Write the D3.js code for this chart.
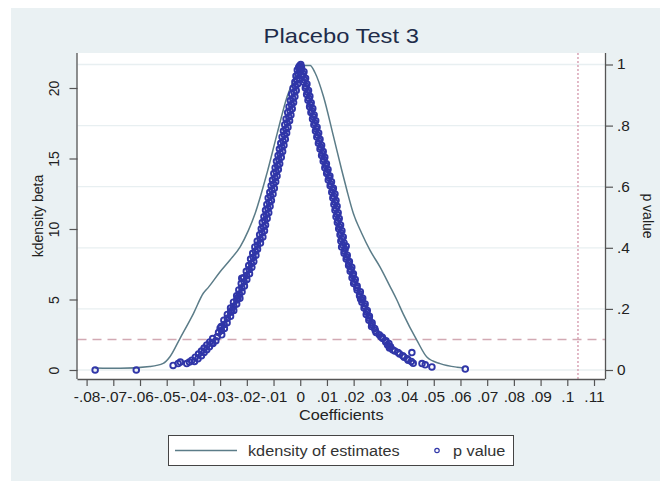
<!DOCTYPE html>
<html>
<head>
<meta charset="utf-8">
<script src="https://cdn.jsdelivr.net/npm/d3@7"></script>
<style>
  body { margin: 0; background: #fff; }
  text { font-family: "Liberation Sans", Arial, sans-serif; }
</style>
</head>
<body>
<div id="chart"></div>
<script>
// kdensity of the placebo estimates (coefficient, density)
var densCoef = [-0.0768, -0.0674, -0.0563, -0.0513, -0.0488, -0.0450, -0.0400, -0.0363, -0.0344, -0.0300,
                -0.0263, -0.0225, -0.0194, -0.0169, -0.0124, -0.0086, -0.0049, -0.0026,  0.0000,  0.0037,
                 0.0055,  0.0087,  0.0124,  0.0155,  0.0174,  0.0199,  0.0230,  0.0261,  0.0299,  0.0337,
                 0.0361,  0.0385,  0.0437,  0.0475,  0.0524,  0.0587,  0.0612];
var densVal  = [0.15, 0.12, 0.25, 0.47, 0.94, 2.25, 4.0, 5.44, 5.86, 6.97,
                7.8, 8.74, 9.9, 11.1, 14.0, 16.8, 19.4, 20.5, 21.6, 21.6,
                21.1, 19.4, 16.6, 14.2, 12.8, 11.1, 9.7, 8.5, 7.3, 5.9,
                5.0, 4.0, 2.1, 0.9, 0.45, 0.2, 0.15];

// p values of the placebo estimates [coefficient, p]
var pLeft = [
  [-0.0003,0.995],[0.0002,1.0],[-0.0006,0.99],
  [-0.0011,0.982],[-0.0002,0.976],[-0.0016,0.962],[-0.0005,0.955],[-0.0020,0.943],[-0.0010,0.936],
  [-0.0027,0.922],[-0.0015,0.915],[-0.0032,0.903],[-0.0020,0.895],[-0.0037,0.882],[-0.0025,0.876],
  [-0.0042,0.862],[-0.0030,0.855],[-0.0047,0.843],[-0.0035,0.835],[-0.0053,0.822],[-0.0040,0.816],
  [-0.0058,0.803],[-0.0046,0.795],[-0.0063,0.782],[-0.0051,0.776],[-0.0068,0.763],[-0.0056,0.755],
  [-0.0073,0.742],[-0.0061,0.736],[-0.0078,0.723],[-0.0066,0.715],[-0.0083,0.702],[-0.0071,0.696],
  [-0.0089,0.683],[-0.0077,0.675],[-0.0094,0.662],[-0.0082,0.656],[-0.0099,0.643],[-0.0087,0.635],
  [-0.0104,0.622],[-0.0092,0.616],[-0.0109,0.603],[-0.0097,0.595],[-0.0114,0.582],[-0.0102,0.576],
  [-0.0120,0.563],[-0.0108,0.555],[-0.0125,0.542],[-0.0113,0.536],[-0.0130,0.523],[-0.0118,0.515],
  [-0.0136,0.502],[-0.0124,0.496],[-0.0142,0.483],[-0.0130,0.475],[-0.0146,0.462],[-0.0134,0.456],
  [-0.0152,0.443],[-0.0140,0.435],[-0.0161,0.422],[-0.0149,0.416],[-0.0170,0.403],[-0.0160,0.395],
  [-0.0178,0.382],[-0.0166,0.376],[-0.0186,0.363],[-0.0174,0.355],[-0.0193,0.342],[-0.0181,0.336],
  [-0.0202,0.323],[-0.0190,0.315],[-0.0212,0.302],[-0.0200,0.296],[-0.0221,0.283],[-0.0209,0.275],
  [-0.0230,0.262],[-0.0218,0.256],[-0.0238,0.243],[-0.0226,0.235],[-0.0250,0.222],[-0.0238,0.216],
  [-0.0261,0.203],[-0.0249,0.195],[-0.0273,0.182],[-0.0261,0.176],[-0.0286,0.163],[-0.0274,0.155],
  [-0.0296,0.142],[-0.0284,0.136],[-0.0306,0.123],[-0.0294,0.115],[-0.0328,0.103],[-0.0316,0.096],
  [-0.0339,0.092],[-0.0327,0.087],[-0.0350,0.082],[-0.0340,0.076],[-0.0360,0.072],[-0.0350,0.066],
  [-0.0370,0.062],[-0.0360,0.057],[-0.0381,0.052],[-0.0370,0.047],[-0.0393,0.042],[-0.0383,0.037],
  [-0.0406,0.032],[-0.0396,0.028],[-0.0415,0.026],[-0.0425,0.021],
  [-0.0449,0.026],[-0.0457,0.021],[-0.0476,0.015],[-0.0614,0.0],[-0.0768,0.0]
];
var pLeftMid = [
  [-0.0002,0.988],[-0.0008,0.969],[-0.0013,0.949],[-0.0018,0.929],[-0.0023,0.909],[-0.0028,0.889],
  [-0.0033,0.869],[-0.0038,0.849],[-0.0043,0.829],[-0.0049,0.809],[-0.0054,0.789],[-0.0059,0.769],
  [-0.0064,0.749],[-0.0069,0.729],[-0.0075,0.709],[-0.0080,0.689],[-0.0085,0.669],[-0.0090,0.649],
  [-0.0095,0.629],[-0.0100,0.609],[-0.0106,0.589],[-0.0111,0.569],[-0.0116,0.549],[-0.0121,0.529],
  [-0.0127,0.509],[-0.0133,0.489],[-0.0138,0.469],[-0.0143,0.449],[-0.0150,0.429],[-0.0160,0.409],
  [-0.0168,0.389],[-0.0176,0.369],[-0.0183,0.349],[-0.0191,0.329],[-0.0201,0.309],[-0.0210,0.289],
  [-0.0219,0.269],[-0.0228,0.249],[-0.0238,0.229],[-0.0249,0.209],[-0.0261,0.189],[-0.0273,0.169],
  [-0.0285,0.149],[-0.0295,0.129],[-0.0311,0.109],
  [-0.0219,0.300],[-0.0233,0.237],[-0.0257,0.195],[-0.0300,0.137],[-0.0331,0.088]
];
var pRight = [
  [0.0004,0.993],
  [0.0003,0.982],[0.0014,0.976],[0.0008,0.963],[0.0020,0.955],[0.0013,0.942],[0.0025,0.936],
  [0.0019,0.923],[0.0031,0.915],[0.0024,0.902],[0.0036,0.896],[0.0029,0.883],[0.0041,0.875],
  [0.0035,0.862],[0.0047,0.856],[0.0040,0.843],[0.0052,0.835],[0.0046,0.822],[0.0058,0.816],
  [0.0051,0.803],[0.0063,0.795],[0.0057,0.782],[0.0069,0.776],[0.0062,0.763],[0.0074,0.755],
  [0.0068,0.742],[0.0080,0.736],[0.0074,0.723],[0.0086,0.715],[0.0080,0.702],[0.0092,0.696],
  [0.0086,0.683],[0.0098,0.675],[0.0092,0.662],[0.0104,0.656],[0.0099,0.643],[0.0111,0.635],
  [0.0105,0.622],[0.0117,0.616],[0.0112,0.603],[0.0124,0.595],[0.0118,0.582],[0.0130,0.576],
  [0.0122,0.563],[0.0134,0.555],[0.0126,0.542],[0.0138,0.536],[0.0130,0.523],[0.0142,0.515],
  [0.0134,0.502],[0.0146,0.496],[0.0139,0.483],[0.0151,0.475],[0.0144,0.462],[0.0156,0.456],
  [0.0149,0.443],[0.0161,0.435],[0.0152,0.422],[0.0164,0.416],[0.0155,0.403],[0.0168,0.395],
  [0.0164,0.382],[0.0176,0.376],[0.0172,0.363],[0.0184,0.355],[0.0181,0.342],[0.0193,0.336],
  [0.0187,0.323],[0.0199,0.315],[0.0194,0.302],[0.0206,0.296],[0.0200,0.283],[0.0213,0.275],
  [0.0213,0.262],[0.0225,0.256],[0.0222,0.243],[0.0234,0.235],[0.0231,0.222],[0.0243,0.216],
  [0.0239,0.203],[0.0251,0.195],[0.0247,0.182],[0.0259,0.176],[0.0257,0.163],[0.0269,0.155],
  [0.0267,0.142],[0.0279,0.136],[0.0284,0.123],[0.0296,0.115],[0.0309,0.103],[0.0321,0.096],
  [0.0320,0.092],[0.0332,0.087],[0.0327,0.082],[0.0338,0.076],[0.0334,0.072],[0.0346,0.066],
  [0.0354,0.062],[0.0366,0.057],[0.0372,0.052],[0.0384,0.047],[0.0389,0.042],[0.0401,0.037],
  [0.0404,0.032],[0.0416,0.028],[0.0423,0.022],
  [0.0418,0.057],[0.0456,0.021],[0.0468,0.017],[0.0493,0.010],[0.0618,0.003]
];
var pRightMid = [
  [0.0005,0.988],[0.0011,0.969],[0.0016,0.949],[0.0022,0.929],[0.0027,0.909],[0.0033,0.889],
  [0.0038,0.869],[0.0043,0.849],[0.0049,0.829],[0.0054,0.809],[0.0060,0.789],[0.0065,0.769],
  [0.0071,0.749],[0.0077,0.729],[0.0083,0.709],[0.0089,0.689],[0.0095,0.669],[0.0101,0.649],
  [0.0108,0.629],[0.0114,0.609],[0.0121,0.589],[0.0126,0.569],[0.0130,0.549],[0.0134,0.529],
  [0.0138,0.509],[0.0142,0.489],[0.0147,0.469],[0.0152,0.449],[0.0156,0.429],[0.0160,0.409],
  [0.0165,0.389],[0.0174,0.369],[0.0182,0.349],[0.0190,0.329],[0.0197,0.309],[0.0203,0.289],
  [0.0212,0.269],[0.0223,0.249],[0.0232,0.229],[0.0241,0.209],[0.0249,0.189],[0.0258,0.169],
  [0.0268,0.149],[0.0281,0.129],[0.0302,0.109],
  [0.0307,0.107],[0.0226,0.232],[0.0172,0.405]
];

var xTicks = [-0.08,-0.07,-0.06,-0.05,-0.04,-0.03,-0.02,-0.01,0,0.01,0.02,0.03,0.04,0.05,0.06,0.07,0.08,0.09,0.1,0.11];
var xTickLabels = ["-.08","-.07","-.06","-.05","-.04","-.03","-.02","-.01","0",".01",".02",".03",".04",".05",".06",".07",".08",".09",".1",".11"];
var yLeftTicks = [0, 5, 10, 15, 20];
var yRightTicks = [0, 0.2, 0.4, 0.6, 0.8, 1];
var yRightLabels = ["0", ".2", ".4", ".6", ".8", "1"];
var pCutoff = 0.1;
var trueCoef = 0.104;

var width = 660, height = 481;
var plot = { left: 77.5, right: 605, top: 53, bottom: 379 };
var font = '"Liberation Sans", Arial, sans-serif';

var svg = d3.select('#chart').append('svg')
    .attr('width', width)
    .attr('height', height);

// stretch text horizontally (the original export is a bit wider than tall)
function widen(sel, k) {
    sel.each(function() {
        var len = this.getComputedTextLength();
        d3.select(this).attr('textLength', len * k).attr('lengthAdjust', 'spacingAndGlyphs');
    });
}

// graph region + plot region
svg.append('rect').attr('x', 11).attr('y', 8)
    .attr('width', width - 11).attr('height', height - 8)
    .attr('fill', '#eaf1f3');
svg.append('rect').attr('x', plot.left).attr('y', plot.top)
    .attr('width', plot.right - plot.left).attr('height', plot.bottom - plot.top)
    .attr('fill', '#fff');

var x = d3.scaleLinear().domain([-0.08, 0.11]).range([86.6, 594]);
var yL = d3.scaleLinear().domain([0, 20]).range([370, 88]);
var yR = d3.scaleLinear().domain([0, 1]).range([370, 64.5]);

// gridlines (from the p value axis)
svg.append('g').selectAll('line')
    .data(yRightTicks).enter().append('line')
    .attr('x1', plot.left).attr('x2', plot.right)
    .attr('y1', function(d) { return yR(d); })
    .attr('y2', function(d) { return yR(d); })
    .attr('stroke', '#e8eff1')
    .attr('stroke-width', 1.3);

// reference lines
svg.append('line')
    .attr('x1', plot.left).attr('x2', plot.right)
    .attr('y1', yR(pCutoff)).attr('y2', yR(pCutoff))
    .attr('stroke', '#d2a9b3').attr('stroke-width', 1.6)
    .attr('stroke-dasharray', '9,6');
svg.append('line')
    .attr('x1', x(trueCoef)).attr('x2', x(trueCoef))
    .attr('y1', plot.top).attr('y2', plot.bottom)
    .attr('stroke', '#d9a3b5').attr('stroke-width', 1.5)
    .attr('stroke-dasharray', '2,2');

// density curve
var dens = densCoef.map(function(c, i) { return [c, densVal[i]]; });
var line = d3.line()
    .x(function(d) { return x(d[0]); })
    .y(function(d) { return yL(d[1]); })
    .curve(d3.curveMonotoneX);
svg.append('path')
    .datum(dens)
    .attr('d', line)
    .attr('fill', 'none')
    .attr('stroke', '#5b7c88')
    .attr('stroke-width', 1.5);

// p values
var pts = pLeft.concat(pLeftMid, pRight, pRightMid);
svg.append('g').selectAll('circle')
    .data(pts).enter().append('circle')
    .attr('cx', function(d) { return x(d[0]); })
    .attr('cy', function(d) { return yR(d[1]); })
    .attr('r', 2.8)
    .attr('fill', 'none')
    .attr('stroke', '#3036a8')
    .attr('stroke-width', 1.9);

// axes
var axisColor = '#555';
var gx = svg.append('g')
    .attr('transform', 'translate(0,' + plot.bottom + ')')
    .call(d3.axisBottom(x).tickValues(xTicks).tickSize(7).tickPadding(6)
        .tickFormat(function(d, i) { return xTickLabels[i]; }));
gx.select('.domain').attr('d', 'M' + plot.left + ',0.5H' + plot.right);

var gl = svg.append('g')
    .attr('transform', 'translate(' + plot.left + ',0)')
    .call(d3.axisLeft(yL).tickValues(yLeftTicks).tickSize(8));
gl.select('.domain').attr('d', 'M-0.5,' + plot.top + 'V' + plot.bottom);
gl.selectAll('.tick text')
    .attr('transform', 'rotate(-90)')
    .attr('x', 0).attr('y', -19).attr('dy', 0)
    .attr('text-anchor', 'middle');

var gr = svg.append('g')
    .attr('transform', 'translate(' + plot.right + ',0)')
    .call(d3.axisRight(yR).tickValues(yRightTicks).tickSize(8).tickPadding(4)
        .tickFormat(function(d, i) { return yRightLabels[i]; }));
gr.select('.domain').attr('d', 'M0.5,' + plot.top + 'V' + plot.bottom);

[gx, gl, gr].forEach(function(g) {
    g.select('.domain').attr('stroke', axisColor).attr('stroke-width', 1.3);
    g.selectAll('.tick line').attr('stroke', axisColor).attr('stroke-width', 1.2);
    g.selectAll('.tick text')
        .attr('fill', '#222')
        .style('font-size', '14px')
        .style('font-family', font);
});
widen(gx.selectAll('.tick text'), 1.1);
widen(gr.selectAll('.tick text'), 1.1);

// titles
var title = svg.append('text')
    .attr('x', (plot.left + plot.right) / 2).attr('y', 43)
    .attr('text-anchor', 'middle')
    .attr('fill', '#1e2c4a')
    .style('font-size', '21px')
    .text('Placebo Test 3');
widen(title, 1.13);

var xTitle = svg.append('text')
    .attr('x', (plot.left + plot.right) / 2).attr('y', 420)
    .attr('text-anchor', 'middle')
    .attr('fill', '#222')
    .style('font-size', '14px')
    .text('Coefficients');
widen(xTitle, 1.16);

svg.append('text')
    .attr('transform', 'translate(43,' + (plot.top + plot.bottom) / 2 + ') rotate(-90)')
    .attr('text-anchor', 'middle')
    .attr('fill', '#222')
    .style('font-size', '14px')
    .text('kdensity beta');

svg.append('text')
    .attr('transform', 'translate(643,' + (plot.top + plot.bottom) / 2 + ') rotate(90)')
    .attr('text-anchor', 'middle')
    .attr('fill', '#222')
    .style('font-size', '14px')
    .text('p value');

// legend
var lg = svg.append('g');
lg.append('rect')
    .attr('x', 168.5).attr('y', 435.5).attr('width', 345).attr('height', 30)
    .attr('fill', '#fff').attr('stroke', '#444').attr('stroke-width', 1);
lg.append('line')
    .attr('x1', 175).attr('x2', 237).attr('y1', 450.5).attr('y2', 450.5)
    .attr('stroke', '#5b7c88').attr('stroke-width', 1.5);
var l1 = lg.append('text')
    .attr('x', 248).attr('y', 455.5)
    .attr('fill', '#333').style('font-size', '14px')
    .text('kdensity of estimates');
widen(l1, 1.16);
lg.append('circle')
    .attr('cx', 437).attr('cy', 450.5).attr('r', 2.2)
    .attr('fill', 'none').attr('stroke', '#3036a8').attr('stroke-width', 1.2);
var l2 = lg.append('text')
    .attr('x', 453).attr('y', 455.5)
    .attr('fill', '#333').style('font-size', '14px')
    .text('p value');
widen(l2, 1.16);
</script>
</body>
</html>
